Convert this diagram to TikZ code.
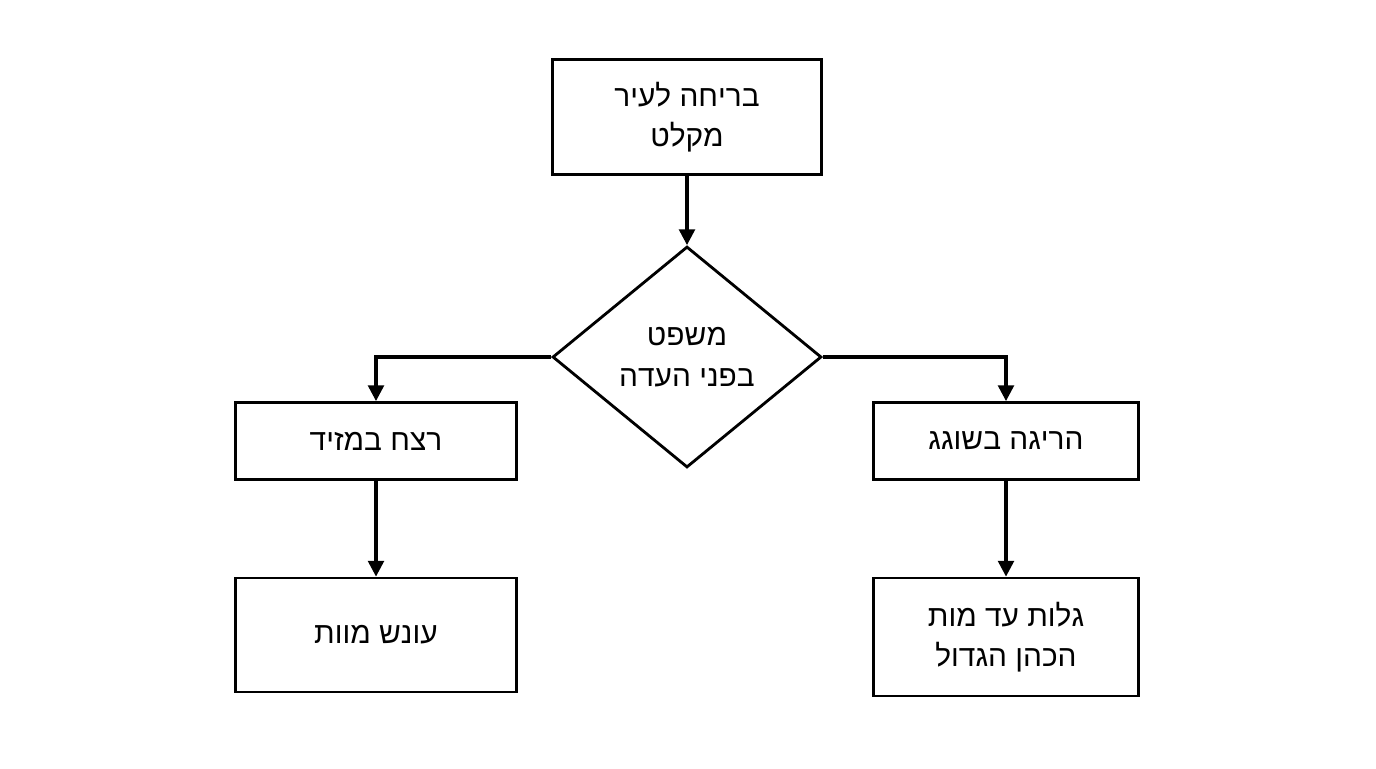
\documentclass[tikz,border=0pt]{standalone}
\usepackage{fontspec}
\setmainfont{Liberation Sans}
\usetikzlibrary{shapes.geometric,arrows.meta}
\TeXXeTstate=1
\newcommand{\heb}[1]{\beginR #1\endR}
\begin{document}
\begin{tikzpicture}[x=0.02cm,y=-0.02cm,
  box/.style={draw,line width=1.6pt,minimum width=5.3cm,align=center,font=\fontsize{17}{23}\selectfont},
  arr/.style={line width=1.8pt,-{Triangle[length=9pt,width=9pt]}}]
\useasboundingbox[fill=white] (0,0) rectangle (1376,768);
\node[box,minimum width=5.38cm,minimum height=2.3cm] (top) at (687,117) {\heb{בריחה לעיר}\\\heb{מקלט}};
\node[draw,line width=1.6pt,diamond,minimum width=5.38cm,minimum height=4.42cm,inner sep=0pt,align=center,font=\fontsize{17}{23}\selectfont] (d) at (687,357) {\heb{משפט}\\\heb{בפני העדה}};
\node[box,minimum width=5.62cm,minimum height=1.54cm] (l1) at (376,441) {\heb{רצח במזיד}};
\node[box,minimum width=5.62cm,minimum height=2.28cm] (l2) at (376,635) {\heb{עונש מוות}};
\node[box,minimum width=5.3cm,minimum height=1.54cm] (r1) at (1006,441) {\heb{הריגה בשוגג}};
\node[box,minimum width=5.3cm,minimum height=2.36cm] (r2) at (1006,637) {\heb{גלות עד מות}\\\heb{הכהן הגדול}};
\draw[arr] (top) -- (d);
\draw[arr] (d.west) -| (l1.north);
\draw[arr] (d.east) -| (r1.north);
\draw[arr] (l1) -- (l2);
\draw[arr] (r1) -- (r2);
\end{tikzpicture}
\end{document}
